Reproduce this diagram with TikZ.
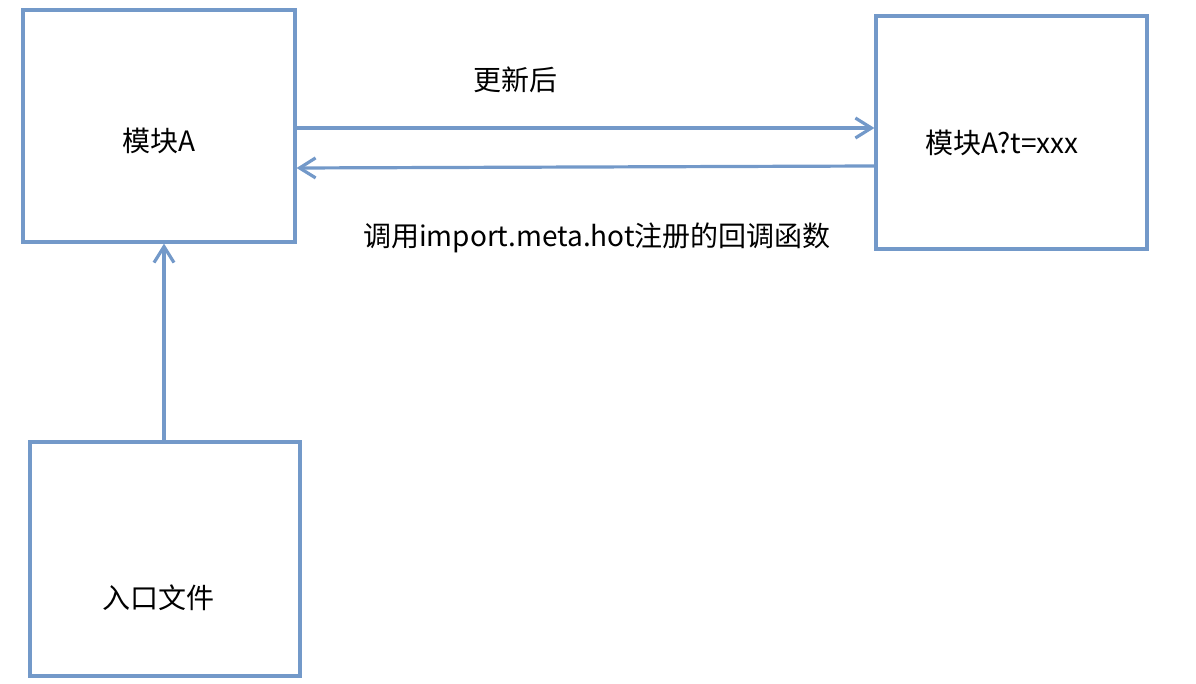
\documentclass[tikz,border=0pt]{standalone}
\usepackage{fontspec}
\setmainfont{Noto Sans CJK SC}
\usetikzlibrary{arrows.meta}
\definecolor{boxblue}{RGB}{115,153,201}
\tikzset{
  px/.style={x=0.75pt,y=-0.75pt},
  box/.style={draw=boxblue,line width=2.4pt,inner sep=0pt},
  conn/.style={draw=boxblue,line width=2.4pt,-{Straight Barb[length=12pt,width=15pt,line width=2.4pt]}},
  txt/.style={font=\fontsize{21pt}{24pt}\selectfont,inner sep=0pt}
}
\begin{document}
\begin{tikzpicture}[px]
\useasboundingbox (0,0) rectangle (1196,684);
\node[box,minimum width=204pt,minimum height=174pt] (A) at (159,126) {};
\node[box,minimum width=203.25pt,minimum height=174.75pt] (B) at (1011.5,132.5) {};
\node[box,minimum width=202.5pt,minimum height=175.5pt] (C) at (165,559) {};
\node[txt] (tA) at (159,141) {模块A};
\node[txt] (tB) at (1002,143) {模块A?t=xxx};
\node[txt] (tC) at (158,598) {入口文件};
\node[txt] (l1) at (515,80) {更新后};
\node[txt] (l2) at (597,238) {调用import.meta.hot注册的回调函数};
\coordinate (a1) at (A.east |- 0,128);
\coordinate (b1) at (B.west |- 0,128);
\coordinate (b2) at (B.west |- 0,166);
\coordinate (a2) at (A.east |- 0,168);
\coordinate (c1) at (C.north -| 164,0);
\coordinate (a3) at (A.south -| 164,0);
\draw[conn] (a1) -- (b1);
\draw[conn] (b2) -- (a2);
\draw[conn] (c1) -- (a3);
\end{tikzpicture}
\end{document}
